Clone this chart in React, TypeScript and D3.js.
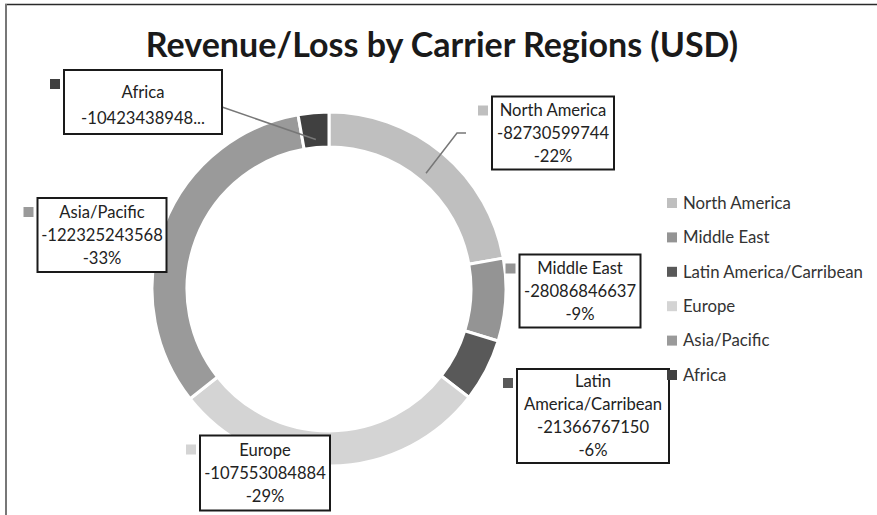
import { useEffect, useRef } from "react";
import * as d3 from "d3";

// chart data
const categories = ["North America", "Middle East", "Latin America/Carribean", "Europe", "Asia/Pacific", "Africa"];
const values = [-82730599744, -28086846637, -21366767150, -107553084884, -122325243568, -10423438948];
const percentLabels = ["-22%", "-9%", "-6%", "-29%", "-33%", "-3%"];
const colors = ["#bfbfbf", "#949494", "#595959", "#d4d4d4", "#9a9a9a", "#404040"];

// label box layout (Excel style, placed by hand)
const labelBoxes = [
  { cx: 553, cy: 133, w: 122, h: 73 },
  { cx: 580, cy: 291, w: 121, h: 73 },
  { cx: 593, cy: 416, w: 152, h: 94 },
  { cx: 265, cy: 473, w: 130, h: 75 },
  { cx: 102, cy: 235, w: 129, h: 74 },
  { cx: 143, cy: 102, w: 158, h: 64 },
];

const W = 877;
const H = 515;
const FONT = "Lato, 'Open Sans', sans-serif";

const labelLines = (i: number) => {
  if (categories[i] === "Latin America/Carribean") {
    return ["Latin", "America/Carribean", String(values[i]), percentLabels[i]];
  }
  if (categories[i] === "Africa") {
    // truncated in the original
    return [categories[i], String(values[i]) + "..."];
  }
  return [categories[i], String(values[i]), percentLabels[i]];
};

const App = () => {
  const ref = useRef<SVGSVGElement>(null);

  useEffect(() => {
    const svg = d3.select(ref.current);
    svg.selectAll("*").remove();

    svg.append("rect").attr("width", W).attr("height", H).attr("fill", "#fff");

    // outer frame
    svg.append("line").attr("x1", 5).attr("x2", W).attr("y1", 4.5).attr("y2", 4.5)
      .attr("stroke", "#2a2a2a").attr("stroke-width", 1.5);
    svg.append("line").attr("x1", 6).attr("x2", 6).attr("y1", 4).attr("y2", H)
      .attr("stroke", "#777").attr("stroke-width", 2);

    // title
    svg.append("text")
      .attr("x", 442)
      .attr("y", 57)
      .attr("text-anchor", "middle")
      .attr("font-family", FONT)
      .attr("font-weight", "bold")
      .attr("font-size", "34px")
      .attr("fill", "#1a1a1a")
      .text("Revenue/Loss by Carrier Regions (USD)");

    const cx = 329;
    const cy = 289;
    const outerR = 177;
    const innerR = 142;

    const pie = d3.pie<number>().value(d => Math.abs(d)).sort(null);
    const arcs = pie(values);
    const arc = d3.arc<d3.PieArcDatum<number>>().innerRadius(innerR).outerRadius(outerR);

    const g = svg.append("g").attr("transform", `translate(${cx},${cy})`);
    g.selectAll("path")
      .data(arcs)
      .enter().append("path")
      .attr("d", arc)
      .attr("fill", (_, i) => colors[i])
      .attr("stroke", "#fff")
      .attr("stroke-width", 3);

    // leader lines for Africa and North America
    const pointAt = (d: d3.PieArcDatum<number>, r: number) => {
      const a = (d.startAngle + d.endAngle) / 2;
      return [cx + r * Math.sin(a), cy - r * Math.cos(a)];
    };
    const naEnd = pointAt(arcs[0], 151);
    const naBox = labelBoxes[0];
    svg.append("polyline")
      .attr("points", [[naBox.cx - naBox.w / 2 - 26, 133], [naBox.cx - naBox.w / 2 - 35, 133], naEnd].map(p => p.join(",")).join(" "))
      .attr("fill", "none")
      .attr("stroke", "#777")
      .attr("stroke-width", 1.5);
    const afEnd = pointAt(arcs[5], 150);
    const afBox = labelBoxes[5];
    svg.append("line")
      .attr("x1", afBox.cx + afBox.w / 2).attr("y1", 107)
      .attr("x2", afEnd[0]).attr("y2", afEnd[1])
      .attr("stroke", "#777")
      .attr("stroke-width", 1.5);

    // data label boxes
    labelBoxes.forEach((b, i) => {
      const x0 = b.cx - b.w / 2;
      const y0 = b.cy - b.h / 2;
      svg.append("rect")
        .attr("x", x0 - 14).attr("y", y0 + 9)
        .attr("width", 10).attr("height", 10)
        .attr("fill", colors[i]);
      svg.append("rect")
        .attr("x", x0).attr("y", y0)
        .attr("width", b.w).attr("height", b.h)
        .attr("fill", "#fff")
        .attr("stroke", "#1a1a1a")
        .attr("stroke-width", 2);
      const lines = labelLines(i);
      const step = lines.length === 2 ? 26 : 23;
      const first = b.cy + (lines.length === 2 ? 3 : 0) - ((lines.length - 1) * step) / 2;
      lines.forEach((t, k) => {
        svg.append("text")
          .attr("x", b.cx)
          .attr("y", first + k * step)
          .attr("dy", "0.35em")
          .attr("text-anchor", "middle")
          .attr("font-family", FONT)
          .attr("font-size", "16.6px")
          .attr("fill", "#222")
          .text(t);
      });
    });

    // legend
    const legendY = d3.scalePoint<string>().domain(categories).range([203, 375]);
    const legend = svg.append("g");
    categories.forEach((c, i) => {
      const y = legendY(c) as number;
      legend.append("rect")
        .attr("x", 667).attr("y", y - 5)
        .attr("width", 10).attr("height", 10)
        .attr("fill", colors[i]);
      legend.append("text")
        .attr("x", 683).attr("y", y)
        .attr("dy", "0.35em")
        .attr("font-family", FONT)
        .attr("font-size", "16.8px")
        .attr("fill", "#333")
        .text(c);
    });
  }, []);

  return (
    <svg ref={ref} width={W} height={H} style={{ position: "absolute", left: 0, top: 0 }} />
  );
};

export default App;
